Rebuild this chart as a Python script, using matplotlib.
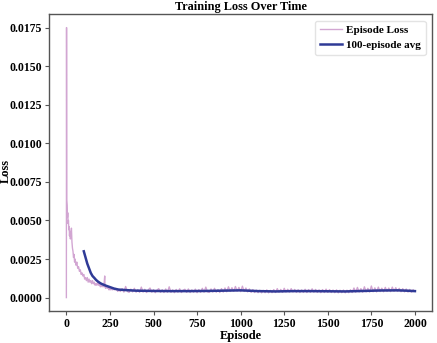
import matplotlib
matplotlib.use("Agg")
import matplotlib.pyplot as plt

# per-episode training loss (sampled episodes)
episodes = [0, 1, 2, 4, 6, 8, 10, 12, 14, 16, 18, 20, 23, 26, 29, 32, 35, 38, 41, 44, 47,
            50, 55, 60, 65, 70, 75, 80, 85, 90, 95, 100, 105, 110, 115, 120, 125, 130, 135,
            140, 145, 150, 155, 160, 165, 170, 175, 180, 185, 190, 195, 200, 205, 210, 215,
            220, 222, 225, 230, 235, 240, 245, 250, 255, 260, 265, 270, 275, 280, 285, 290,
            295, 300] + list(range(310, 2000, 10))
losses = [0.0000, 0.0175, 0.0063, 0.0060, 0.0052, 0.0055, 0.0048, 0.0050, 0.0044, 0.0046,
          0.0040, 0.0043, 0.0038, 0.0041, 0.0045, 0.0036, 0.0032, 0.0030, 0.0026, 0.0028,
          0.0023, 0.0025, 0.0021, 0.0023, 0.0019, 0.0020, 0.0017, 0.0018, 0.0015, 0.0016,
          0.0014, 0.0015, 0.0012, 0.0013, 0.0011, 0.0013, 0.0010, 0.0012, 0.0010, 0.0011,
          0.0009, 0.0011, 0.0009, 0.0010, 0.0008, 0.0009, 0.0008, 0.0010, 0.0008, 0.0009,
          0.0007, 0.0008, 0.0007, 0.0008, 0.0007, 0.0014, 0.0007, 0.0006, 0.0007, 0.0006,
          0.0007, 0.0005, 0.0006, 0.0005, 0.0006, 0.0005, 0.0006, 0.0005, 0.0006, 0.0005,
          0.0005, 0.0004, 0.0005,
          # 310 - 980
          0.00040, 0.00058, 0.00036, 0.00072, 0.00040, 0.00034, 0.00055, 0.00037, 0.00060, 0.00035,
          0.00052, 0.00034, 0.00068, 0.00036, 0.00054, 0.00033, 0.00050, 0.00062, 0.00035, 0.00052,
          0.00032, 0.00049, 0.00058, 0.00034, 0.00051, 0.00033, 0.00056, 0.00035, 0.00070, 0.00034,
          0.00050, 0.00032, 0.00053, 0.00035, 0.00057, 0.00033, 0.00048, 0.00054, 0.00034, 0.00056,
          0.00033, 0.00050, 0.00035, 0.00055, 0.00032, 0.00052, 0.00034, 0.00060, 0.00035, 0.00068,
          0.00037, 0.00034, 0.00056, 0.00036, 0.00060, 0.00035, 0.00052, 0.00033, 0.00058, 0.00036,
          0.00062, 0.00038, 0.00070, 0.00040, 0.00064, 0.00041, 0.00072, 0.00042,
          # 990 - 1480
          0.00066, 0.00039, 0.00074, 0.00040, 0.00062, 0.00037, 0.00056, 0.00034, 0.00052, 0.00033,
          0.00049, 0.00032, 0.00048, 0.00031, 0.00047, 0.00032, 0.00050, 0.00031, 0.00047, 0.00032,
          0.00052, 0.00033, 0.00058, 0.00035, 0.00053, 0.00034, 0.00060, 0.00036, 0.00054, 0.00035,
          0.00058, 0.00036, 0.00053, 0.00034, 0.00051, 0.00033, 0.00050, 0.00034, 0.00054, 0.00033,
          0.00052, 0.00034, 0.00057, 0.00035, 0.00053, 0.00034, 0.00050, 0.00032, 0.00052, 0.00033,
          # 1490 - 1990
          0.00055, 0.00034, 0.00052, 0.00033, 0.00049, 0.00032, 0.00050, 0.00031, 0.00048, 0.00032,
          0.00049, 0.00031, 0.00048, 0.00032, 0.00051, 0.00033, 0.00062, 0.00035, 0.00066, 0.00036,
          0.00058, 0.00035, 0.00070, 0.00037, 0.00060, 0.00036, 0.00075, 0.00038, 0.00063, 0.00037,
          0.00068, 0.00039, 0.00061, 0.00038, 0.00066, 0.00040, 0.00062, 0.00039, 0.00068, 0.00041,
          0.00064, 0.00040, 0.00060, 0.00038, 0.00058, 0.00037, 0.00056, 0.00036, 0.00053, 0.00035,
          0.00050]

# 100-episode moving average
avg_episodes = [100, 110, 120, 130, 140, 150, 160, 170, 180, 190, 200, 225, 250, 275, 300,
                350, 400, 500, 600, 700, 800, 900, 1000, 1100, 1200, 1300, 1400, 1500,
                1600, 1700, 1800, 1900, 1950, 2000]
avg_losses = [0.0030, 0.0026, 0.0022, 0.0019, 0.0016, 0.0014, 0.00128, 0.00115, 0.00105,
              0.00097, 0.00090, 0.00078, 0.00068, 0.00058, 0.00052, 0.00048, 0.00045,
              0.00043, 0.00042, 0.00042, 0.00043, 0.00045, 0.00047, 0.00042, 0.00040,
              0.00042, 0.00042, 0.00041, 0.00040, 0.00043, 0.00046, 0.00047, 0.00045, 0.00042]

plt.rcParams["font.family"] = ["Liberation Serif", "DejaVu Serif"]
plt.rcParams["font.weight"] = "bold"

fig = plt.figure(figsize=(4.37, 3.43), dpi=100)
ax = fig.add_axes([0.112, 0.093, 0.877, 0.866])

ax.plot(episodes, losses, color="purple", alpha=0.35, lw=1.0, label="Episode Loss")
ax.plot(avg_episodes, avg_losses, color="#2f3a96", lw=1.8, label="100-episode avg")

ax.set_xlim(-100, 2099)
ax.set_ylim(-0.000875, 0.018375)
ax.set_xticks([0, 250, 500, 750, 1000, 1250, 1500, 1750, 2000])
ax.set_yticks([0, 0.0025, 0.005, 0.0075, 0.01, 0.0125, 0.015, 0.0175])
ax.yaxis.set_major_formatter(plt.FuncFormatter(lambda v, p: f"{v:.4f}"))
ax.tick_params(labelsize=8.5, length=3, pad=2, color="#555555")
for lbl in ax.get_xticklabels() + ax.get_yticklabels():
    lbl.set_fontweight("bold")
for sp in ax.spines.values():
    sp.set_color("#555555")
    sp.set_linewidth(1.0)

ax.set_title("Training Loss Over Time", fontsize=8.8, fontweight="bold", pad=3)
ax.set_xlabel("Episode", fontsize=9, fontweight="bold", labelpad=0)
ax.set_ylabel("Loss", fontsize=9, fontweight="bold")
ax.yaxis.set_label_coords(-0.098, 0.47)
ax.legend(loc="upper right", frameon=True, edgecolor="#dddddd",
          prop={"weight": "bold", "size": 8}, handlelength=2.0, handletextpad=0.4,
          borderaxespad=0.6)

fig.savefig("out.png", dpi=100)
